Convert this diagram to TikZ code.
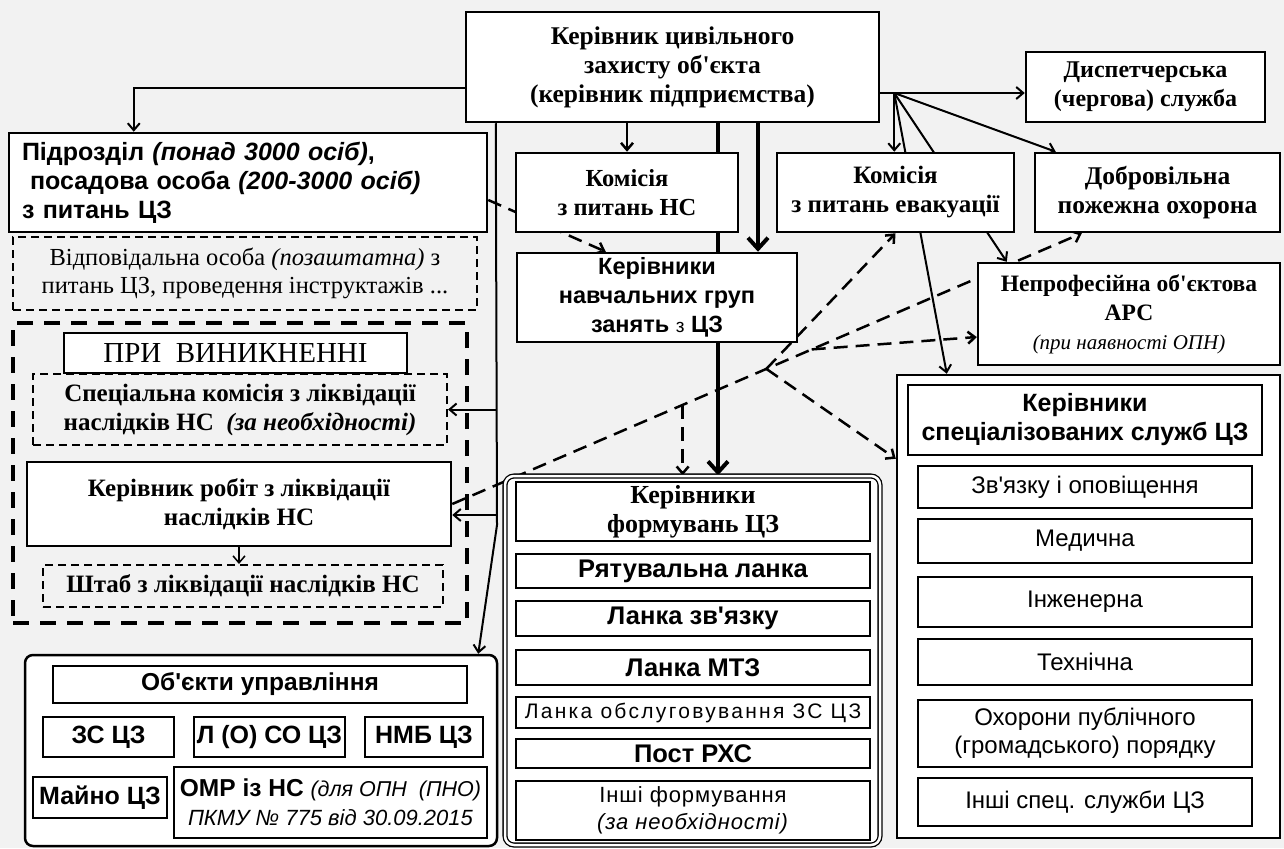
\documentclass[tikz,border=0pt]{standalone}
\usepackage{fontspec}
\newfontfamily\serifface{Liberation Serif}
\newfontfamily\sansface{Liberation Sans}
\newfontfamily\sanswide[LetterSpace=11]{Liberation Sans}
\newfontfamily\sanssemi[LetterSpace=4]{Liberation Sans}
\usetikzlibrary{positioning,arrows.meta,backgrounds}
\definecolor{scangray}{RGB}{242,242,242}

\begin{document}
\begin{tikzpicture}[x=1pt, y=-1pt,
	box/.style={draw, line width=2.5pt, fill=white, align=center, inner sep=2pt},
	dbox/.style={draw, line width=2pt, dash pattern=on 8pt off 5pt, align=center, inner sep=2pt},
	sz/.style 2 args={minimum width=#1pt, minimum height=#2pt},
	rmb/.style={font=\serifface\bfseries\fontsize{#1}{29}\selectfont}, rmb/.default=24.5,
	sfb/.style={font=\sansface\bfseries\fontsize{#1}{29}\selectfont}, sfb/.default=24.5,
	sfr/.style={font=\sansface\fontsize{24}{28}\selectfont},
	grp/.style={draw, line width=2.5pt, fill=white},
	arr/.style={-{Straight Barb[length=7pt,width=12pt]}, line width=2pt},
	bigarr/.style={-{Straight Barb[length=11pt,width=20pt]}, line width=4pt},
	darr/.style={arr, line width=2.5pt, dash pattern=on 14pt off 8pt}
	]
	\useasboundingbox (0,0) rectangle (1284,848);

	\node[box, rmb=25.5, sz={413}{110}] (head) at (672.5,67) {Керівник цивільного\\захисту об'єкта\\(керівник підприємства)};
	\node[box, rmb=24, sz={239}{70}]  (disp) at (1145.5,87) {Диспетчерська\\(чергова) служба};
	\node[box, rmb, sz={222}{79}]  (comns) at (627,192.5) {Комісія\\з питань НС};
	\node[box, rmb=25, sz={237}{79}]  (comevac) at (895.5,192.5) {Комісія\\з питань евакуації};
	\node[box, rmb=25.5, sz={245}{79}]  (fire) at (1157.5,192.5) {Добровільна\\пожежна охорона};
	\node[box, rmb=23.5, sz={302}{102}] (ars) at (1129,314) {Непрофесійна об'єктова\\АРС\\{\mdseries\itshape\fontsize{21}{27}\selectfont (при наявності ОПН)}};

	\node[box, sfb=25, text width=452pt, align=left, sz={478}{99}] (unit) at (248,182.5) {Підрозділ \textit{(понад 3000 осіб)},\\\hspace*{8pt}посадова особа \textit{(200-3000 осіб)}\\з питань ЦЗ};
	\node[dbox, font=\serifface\fontsize{24.5}{28}\selectfont, sz={464}{73}] (resp) at (245,273.5) {Відповідальна особа \textit{(позаштатна)} з\\питань ЦЗ, проведення інструктажів ...};

	\node[draw, line width=4pt, dash pattern=on 16pt off 11pt, sz={454}{300}] (emerg) at (240,473) {};
	\node[box, font=\serifface\fontsize{29}{32}\selectfont, sz={343}{40}] (when) at (235.5,353) {ПРИ\ \ ВИНИКНЕННІ};
	\node[dbox, rmb=25, sz={414}{71}] (spcom) at (240,409.5) {Спеціальна комісія з ліквідації\\наслідків НС\ \ \textit{(за необхідності)}};
	\node[box, rmb=25, sz={424}{84}]  (chief) at (239,504) {Керівник робіт з ліквідації\\наслідків НС};
	\node[dbox, rmb=25, sz={400}{42}] (hq) at (243,586) {Штаб з ліквідації наслідків НС};

	\node[box, sfb=23.5, sz={280}{89}] (tutors) at (657,297.5) {Керівники\\навчальних груп\\занять {\mdseries\fontsize{19}{29}\selectfont з} ЦЗ};

	\node[grp, rounded corners=8pt, sz={472}{191}] (ctrl) at (261,750.5) {};
	\node[box, sfb, sz={414}{37}] (ctrlhead) at (260,684.5) {Об'єкти управління};
	\node[box, sfb=25, sz={131}{40}] (shelter) at (108.5,737) {ЗС ЦЗ};
	\node[box, sfb=25, inner sep=0pt, sz={151}{40}] (stock) at (269.5,737) {Л (О) СО ЦЗ};
	\node[box, sfb=25, sz={118}{40}] (nmb) at (424,737) {НМБ ЦЗ};
	\node[box, sfb=25, sz={134}{41}] (prop) at (100,797.5) {Майно ЦЗ};
	\node[box, sfb, sz={313}{71}] (omr) at (330.5,802.5) {ОМР із НС {\mdseries\itshape\fontsize{21.5}{27}\selectfont (для ОПН\ \ (ПНО)}\\{\mdseries\itshape\fontsize{22}{27}\selectfont ПКМУ № 775 від 30.09.2015}};

	\node[grp, line width=1.3pt, double, double distance=2.5pt, rounded corners=9pt, sz={375}{369}] (teams) at (692.5,660.5) {};
	\node[box, rmb=26, sz={354}{59}] (teamhead) at (693,511.5) {Керівники\\формувань ЦЗ};
	\node[box, sfb=25.5, sz={354}{34}] (rescue) at (693,571) {Рятувальна ланка};
	\node[box, sfb=25.5, sz={354}{35}] (comm) at (693,618.5) {Ланка зв'язку};
	\node[box, sfb=25.5, sz={354}{35}] (mts) at (693,667.5) {Ланка МТЗ};
	\node[box, font=\sanswide\fontsize{21}{24}\selectfont, sz={354}{31}] (service) at (693,712.5) {Ланка обслуговування ЗС ЦЗ};
	\node[box, sfb=25.5, sz={354}{29}] (rhs) at (693,753.5) {Пост РХС};
	\node[box, font=\sanssemi\fontsize{22}{27}\selectfont, sz={354}{59}] (other) at (693,810.5) {Інші формування\\\textit{(за необхідності)}};

	\node[grp, sz={383}{463}] (spec) at (1088.5,606.5) {};
	\node[box, sfb=25, sz={354}{70}] (spechead) at (1085,420) {Керівники\\спеціалізованих служб ЦЗ};
	\node[box, sfr, sz={334}{42}] (notify) at (1085,487) {Зв'язку і оповіщення};
	\node[box, sfr, sz={334}{44}] (med) at (1085,541) {Медична};
	\node[box, sfr, sz={334}{50}] (eng) at (1085,602) {Інженерна};
	\node[box, sfr, sz={334}{46}] (tech) at (1085,662) {Технічна};
	\node[box, sfr, sz={334}{67}] (order) at (1085,733.5) {Охорони публічного\\(громадського) порядку};
	\node[box, sfr, sz={334}{48}] (otherspec) at (1085,802) {Інші спец. служби ЦЗ};

	\begin{scope}[on background layer]
		\fill[scangray] (0,0) rectangle (1284,848);

		\coordinate (fan) at ([xshift=14pt,yshift=-26pt]head.east);
		\draw[arr] (head.east |- fan) -- (disp.west |- fan);
		\draw[arr] (fan) -- (fan |- comevac.north);
		\draw[arr] (fan) -- ([xshift=51pt]spec.north west);
		\draw[arr] (fan) -- ([xshift=30pt]ars.north west);
		\draw[arr] (fan) -- ([xshift=22pt]fire.north west);

		\draw[arr, line width=2.5pt] (comns.north |- head.south) -- (comns.north);
		\coordinate (h1) at ([xshift=45.5pt]head.south);
		\draw[bigarr] (h1) -- (h1 |- teams.north);
		\coordinate (h2) at ([xshift=85.5pt]head.south);
		\draw[bigarr] (h2) -- (h2 |- tutors.north);
		\coordinate (h3) at ([yshift=-21pt]head.west);
		\draw[arr] (h3) -| ([xshift=126pt]unit.north west);

		\coordinate (h4) at ([xshift=31pt]head.south west);
		\coordinate (h5) at (497,525);
		\draw[arr] (h4) -- (h5) -- ([xshift=-20pt]ctrl.north east);
		\draw[arr] (h4 |- spcom.east) -- (spcom.east);
		\coordinate (c1) at ([yshift=-11pt]chief.east);
		\draw[arr] (c1 -| h4) -- (c1);
		\draw[arr, line width=1.5pt] (chief.south) -- (chief.south |- hq.north);

		\draw[darr] ([yshift=-17.5pt]unit.east) -- ([xshift=90pt]tutors.north west);
		\coordinate (dend) at ([xshift=48pt]fire.south west);
		\draw[darr] (chief.east) -- coordinate[pos=0.366] (j1) coordinate[pos=0.499] (j2) coordinate[pos=0.571] (j3) (dend);
		\draw[darr] (j1) -- (j1 |- teams.north);
		\draw[darr] (j2) -- (comevac.south);
		\draw[darr] (j2) -- ([yshift=-85pt]spec.north west);
		\draw[darr] (j3) -- ([yshift=-23pt]ars.west);
	\end{scope}
\end{tikzpicture}
\end{document}
